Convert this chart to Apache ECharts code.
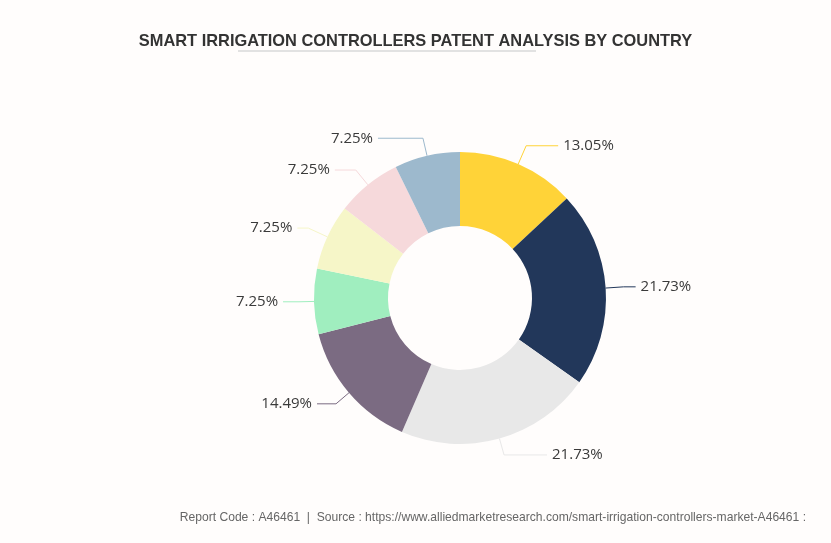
<!DOCTYPE html>
<html>
<head>
<meta charset="utf-8">
<script src="https://cdn.jsdelivr.net/npm/echarts@6/dist/echarts.min.js"></script>
<style>
html,body{margin:0;padding:0;background:#fffdfc;}
#c{width:831px;height:543px;}
</style>
</head>
<body>
<div id="c"></div>
<script>
const categories = ['Country A','Country B','Country C','Country D','Country E','Country F','Country G','Country H'];
const shares = [13.05, 21.73, 21.73, 14.49, 7.25, 7.25, 7.25, 7.25];
const colors = ['#FFD338','#22375A','#E8E8E8','#7B6B82','#A0EEBF','#F6F6C8','#F6D9DB','#9DB9CD'];
const lineLen1 = [20, 18, 17, 17, 15, 21, 19, 18];
const lineLen2 = [32, 12, 43, 19, 16, 11, 21, 45];

const chart = echarts.init(document.getElementById('c'), null, {renderer:'canvas'});
chart.setOption({
  backgroundColor: '#fffdfc',
  animation: false,
  title: {
    text: 'SMART IRRIGATION CONTROLLERS PATENT ANALYSIS BY COUNTRY',
    left: 'center',
    top: 28,
    textStyle: {fontFamily: 'Liberation Sans, Arial', fontSize: 16.4, fontWeight: 'bold', color: '#333333'}
  },
  graphic: [
    {type:'rect', shape:{x:238, y:50, width:298, height:2}, style:{fill:'#e2e2e2'}},
    {type:'text', right: 25, top: 512, style:{
      text:'Report Code : A46461  |  Source : https://www.alliedmarketresearch.com/smart-irrigation-controllers-market-A46461 :',
      font:'12.1px "Liberation Sans", Arial', fill:'#666666'}}
  ],
  series: [{
    type: 'pie',
    center: [460, 298],
    radius: [72, 146],
    startAngle: 90,
    clockwise: true,
    avoidLabelOverlap: true,
    data: categories.map((n,i)=>({
      name:n, value:shares[i], itemStyle:{color:colors[i]},
      labelLine:{length:lineLen1[i], length2:lineLen2[i], lineStyle:{color:colors[i]}}
    })),
    label: {
      formatter: p => p.value.toFixed(2) + '%',
      fontFamily: 'Open Sans, Noto Sans',
      fontSize: 15,
      color: '#3a3a3a'
    },
    labelLine: {lineStyle:{width:1}}
  }]
});
</script>
</body>
</html>
